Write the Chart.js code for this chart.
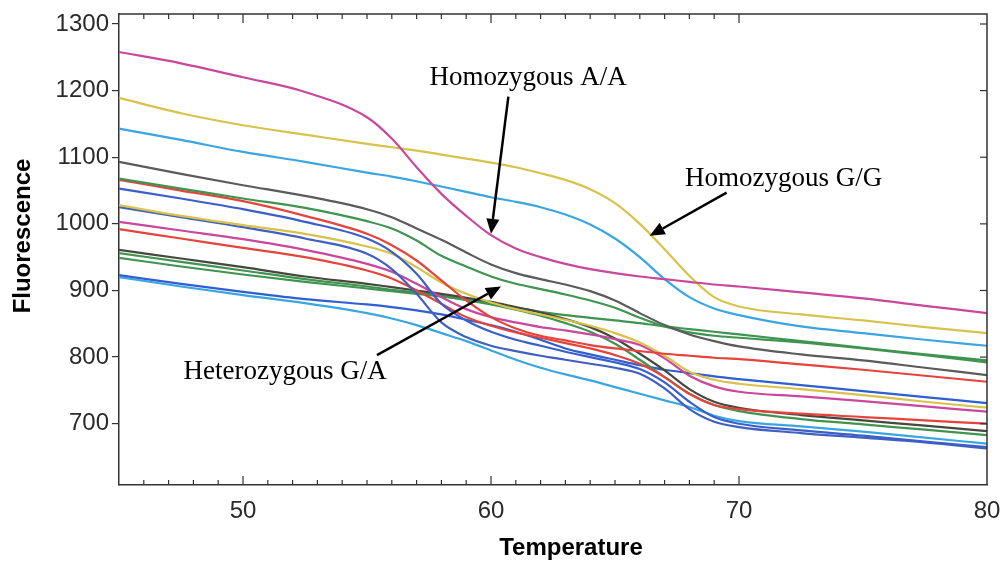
<!DOCTYPE html>
<html lang="en">
<head>
<meta charset="UTF-8">
<title>Melting curves</title>
<script src="https://cdn.jsdelivr.net/npm/chart.js@4"></script>
<style>
    html, body { margin: 0; padding: 0; background: #fff; }
    #wrap { width: 1005px; height: 565px; }
</style>
</head>
<body>
<div id="wrap"><canvas id="meltChart" width="1005" height="565"></canvas></div>
<script>
// temperature grid (deg C) shared by every well
const temps = [45, 47.5, 50, 52.5, 55, 56, 57, 58, 59, 60, 61, 62, 63, 64, 65, 66, 67, 68, 69, 70, 72.5, 75, 77.5, 80];

// fluorescence per well
const homoAA     = [1258, 1241, 1220, 1198, 1160, 1128, 1085, 1045, 1012, 983, 963, 950, 940, 932, 926, 921, 917, 913, 909, 906, 897, 888, 877, 866];
const homoGG     = [1189, 1166, 1148, 1134, 1120, 1115, 1110, 1104, 1098, 1092, 1085, 1076, 1066, 1052, 1031, 1000, 962, 922, 890, 876, 864, 855, 845, 836];
const homoGG2    = [1143, 1126, 1108, 1093, 1077, 1071, 1064, 1056, 1048, 1040, 1033, 1025, 1014, 999, 978, 950, 917, 890, 873, 863, 846, 836, 826, 817];
const hetGray    = [1093, 1075, 1058, 1042, 1022, 1010, 993, 976, 957, 939, 926, 917, 909, 899, 885, 866, 848, 834, 824, 816, 804, 795, 784, 773];
const hetGreen1  = [1068, 1053, 1038, 1024, 1004, 993, 975, 952, 936, 921, 910, 902, 894, 885, 874, 859, 846, 837, 832, 829, 822, 813, 803, 792];
const hetRed1    = [1066, 1050, 1034, 1012, 985, 968, 945, 915, 885, 860, 843, 832, 825, 818, 813, 809, 805, 802, 799, 797, 789, 781, 772, 763];
const hetBlue1   = [1053, 1038, 1022, 1003, 978, 958, 925, 880, 855, 838, 826, 817, 808, 800, 792, 782, 762, 733, 710, 700, 690, 682, 673, 665];
const hetYellow  = [1028, 1012, 998, 985, 966, 955, 935, 912, 895, 882, 872, 864, 856, 847, 836, 822, 802, 778, 766, 760, 752, 743, 733, 724];
const hetBlue2   = [1025, 1010, 995, 978, 955, 932, 895, 852, 830, 817, 809, 802, 796, 790, 784, 775, 753, 722, 703, 695, 686, 679, 672, 663];
const hetMagenta = [1003, 990, 977, 961, 940, 928, 910, 890, 872, 860, 852, 845, 840, 834, 827, 818, 798, 772, 756, 748, 741, 734, 726, 718];
const hetRed2    = [992, 978, 964, 950, 930, 918, 900, 880, 860, 847, 837, 829, 821, 813, 803, 790, 770, 745, 728, 722, 715, 710, 705, 700];
const hetDark    = [961, 948, 935, 921, 910, 905, 900, 895, 889, 883, 875, 867, 857, 845, 828, 805, 780, 752, 733, 724, 713, 705, 697, 689];
const hetGreen2  = [949, 936, 924, 913, 903, 899, 895, 891, 886, 880, 874, 868, 863, 859, 855, 851, 846, 842, 838, 834, 824, 814, 804, 795];
const hetGreen3  = [956, 943, 930, 917, 906, 901, 897, 892, 886, 879, 871, 862, 851, 838, 820, 796, 770, 745, 728, 719, 707, 699, 691, 683];
const hetBlue3   = [923, 910, 898, 887, 879, 875, 870, 864, 856, 848, 838, 826, 813, 804, 796, 788, 781, 776, 771, 767, 758, 749, 740, 731];
const hetSky     = [920, 906, 893, 881, 866, 858, 848, 836, 824, 810, 796, 784, 774, 765, 755, 745, 735, 725, 712, 704, 696, 688, 679, 670];

// axis ticks
const xTickValues = [50, 60, 70, 80];
const xMinorTicks = [46, 47, 48, 49, 50, 51, 52, 53, 54, 55, 56, 57, 58, 59, 60, 61, 62, 63, 64, 65, 66, 67, 68, 69, 70];
const yTickValues = [700, 800, 900, 1000, 1100, 1200, 1300];

// call-outs (label anchor and arrow, in data units)
const notes = [
    { text: 'Homozygous A/A',   at: [61.5, 1219], from: [60.7, 1191], to: [60.0, 985] },
    { text: 'Homozygous G/G',   at: [71.8, 1068], from: [69.5, 1047], to: [66.4, 982] },
    { text: 'Heterozygous G/A', at: [51.7, 778],  from: [55.4, 803],  to: [60.4, 906] }
];

const wells = [
    [homoAA, '#c9479d'], [homoGG, '#d8c24a'], [homoGG2, '#3aa6e0'],
    [hetGray, '#5b5b5b'], [hetGreen1, '#3f9450'], [hetRed1, '#e5443c'],
    [hetBlue1, '#3b5fc8'], [hetYellow, '#d8c24a'], [hetBlue2, '#4060c0'],
    [hetMagenta, '#c9479d'], [hetRed2, '#e5443c'], [hetDark, '#46483e'],
    [hetGreen2, '#3f9450'], [hetGreen3, '#3f9450'], [hetBlue3, '#2f5fd0'],
    [hetSky, '#3aa6e0']
];

const AXIS = '#333';
const TICK_FONT = { family: '"Liberation Sans", Arial, sans-serif', size: 24 };

const extras = {
    id: 'extras',
    afterDraw(chart) {
        const { ctx, chartArea: a, scales: { x, y } } = chart;
        ctx.save();
        // top and right frame
        ctx.strokeStyle = AXIS;
        ctx.lineWidth = 1.5;
        ctx.beginPath();
        ctx.moveTo(a.left, a.top); ctx.lineTo(a.right, a.top); ctx.lineTo(a.right, a.bottom);
        ctx.stroke();
        // inward minor ticks on top and bottom
        ctx.lineWidth = 1.2;
        xMinorTicks.forEach(t => {
            const px = x.getPixelForValue(t);
            const len = t % 10 === 0 ? 9 : 5;
            ctx.beginPath();
            ctx.moveTo(px, a.bottom); ctx.lineTo(px, a.bottom - len);
            ctx.moveTo(px, a.top); ctx.lineTo(px, a.top + len);
            ctx.stroke();
        });
        // inward ticks on the right
        yTickValues.forEach(v => {
            const py = y.getPixelForValue(v);
            ctx.beginPath();
            ctx.moveTo(a.right, py); ctx.lineTo(a.right - 7, py);
            ctx.stroke();
        });

        // axis titles
        ctx.fillStyle = '#000';
        ctx.font = 'bold 24px "Liberation Sans", Arial, sans-serif';
        ctx.textAlign = 'center';
        ctx.textBaseline = 'middle';
        ctx.fillText('Temperature', 571, 548);
        ctx.save();
        ctx.translate(23, 236);
        ctx.rotate(-Math.PI / 2);
        ctx.fillText('Fluorescence', 0, 0);
        ctx.restore();

        // call-outs
        ctx.font = '27px "Liberation Serif", "Times New Roman", serif';
        notes.forEach(n => {
            ctx.fillText(n.text, x.getPixelForValue(n.at[0]), y.getPixelForValue(n.at[1]));
            const x0 = x.getPixelForValue(n.from[0]), y0 = y.getPixelForValue(n.from[1]);
            const x1 = x.getPixelForValue(n.to[0]), y1 = y.getPixelForValue(n.to[1]);
            const ang = Math.atan2(y1 - y0, x1 - x0);
            const head = 15, half = 6.5;
            const bx = x1 - head * Math.cos(ang), by = y1 - head * Math.sin(ang);
            ctx.strokeStyle = '#000';
            ctx.lineWidth = 2.5;
            ctx.beginPath();
            ctx.moveTo(x0, y0); ctx.lineTo(bx, by);
            ctx.stroke();
            ctx.beginPath();
            ctx.moveTo(x1, y1);
            ctx.lineTo(bx + half * Math.sin(ang), by - half * Math.cos(ang));
            ctx.lineTo(bx - half * Math.sin(ang), by + half * Math.cos(ang));
            ctx.closePath();
            ctx.fill();
        });
        ctx.restore();
    }
};

const ctx = document.getElementById('meltChart').getContext('2d');
const chart = new Chart(ctx, {
    type: 'line',
    data: {
        datasets: wells.map(([vals, color]) => ({
            data: vals.map((v, i) => ({ x: temps[i], y: v })),
            borderColor: color,
            borderWidth: 2.2,
            pointRadius: 0,
            cubicInterpolationMode: 'monotone',
            fill: false
        }))
    },
    options: {
        responsive: false,
        animation: false,
        layout: { autoPadding: false, padding: { left: 0, top: 14, right: 18, bottom: 0 } },
        plugins: { legend: { display: false }, tooltip: { enabled: false } },
        scales: {
            x: {
                type: 'linear',
                min: 45,
                max: 80,
                afterBuildTicks: s => { s.ticks = xTickValues.map(v => ({ value: v })); },
                afterFit: s => { s.height = 80; s.paddingLeft = 0; s.paddingRight = 0; },
                grid: { drawOnChartArea: false, drawTicks: false },
                border: { color: AXIS, width: 1.5 },
                ticks: { padding: 12, maxRotation: 0, color: '#2a2a2a', font: TICK_FONT, callback: v => String(v) }
            },
            y: {
                min: 608,
                max: 1315,
                afterBuildTicks: s => { s.ticks = yTickValues.map(v => ({ value: v })); },
                afterFit: s => { s.width = 119; s.paddingTop = 0; s.paddingBottom = 0; },
                grid: { drawOnChartArea: false, tickLength: 7, color: AXIS, lineWidth: 1.2 },
                border: { color: AXIS, width: 1.5 },
                ticks: { padding: 3, color: '#2a2a2a', font: TICK_FONT, callback: v => String(v) }
            }
        }
    },
    plugins: [extras]
});
</script>
</body>
</html>
